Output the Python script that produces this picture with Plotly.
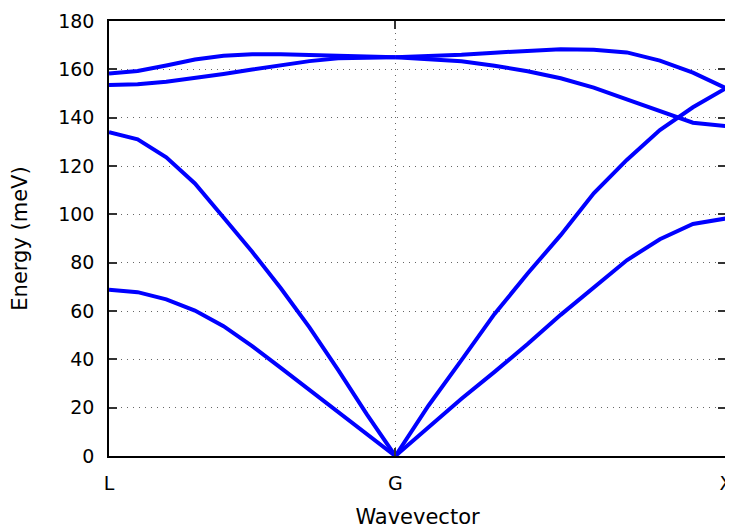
import plotly.graph_objects as go

# Path coordinate (units of 2*pi/a): L -> G has length sqrt(3)/2, G -> X has length 1
k_LG = [0.0, 0.0866, 0.1732, 0.2598, 0.3464, 0.4330, 0.5196, 0.6062, 0.6928, 0.7794, 0.8660]
k_GX = [0.8660, 0.9660, 1.0660, 1.1660, 1.2660, 1.3660, 1.4660, 1.5660, 1.6660, 1.7660, 1.8660]

tick_pos = [0.0, 0.866, 1.866]
tick_text = ["L", "G", "X"]

# Energies (meV), L -> G
LG_TA = [68.8, 67.8, 64.8, 60.2, 53.7, 45.5, 36.5, 27.5, 18.5, 9.4, 0.0]
LG_LA = [134.0, 131.0, 123.6, 112.8, 98.7, 84.5, 69.4, 53.2, 35.6, 17.3, 0.0]
LG_O1 = [153.5, 153.8, 154.9, 156.3, 158.1, 159.9, 161.6, 163.4, 164.6, 165.0, 165.0]
LG_O2 = [158.3, 159.3, 161.6, 164.1, 165.6, 166.2, 166.2, 165.9, 165.5, 165.2, 165.0]

# Energies (meV), G -> X
GX_TA = [0.0, 12.0, 23.7, 34.8, 46.3, 58.4, 69.9, 81.0, 89.7, 96.0, 98.3]
GX_LA = [0.0, 20.8, 39.7, 58.8, 75.5, 91.4, 108.7, 122.5, 134.9, 144.3, 152.2]
GX_O1 = [165.0, 164.2, 163.3, 161.5, 159.2, 156.3, 152.4, 147.6, 142.8, 137.9, 136.5]
GX_O2 = [165.0, 165.3, 166.0, 166.9, 167.7, 168.3, 168.1, 167.0, 163.6, 158.6, 152.2]

fig = go.Figure()
line = dict(color="#0000ff", width=4)
for ys in (LG_TA, LG_LA, LG_O1, LG_O2):
    fig.add_trace(go.Scatter(x=k_LG, y=ys, mode="lines", line=line, showlegend=False))
for ys in (GX_TA, GX_LA, GX_O1, GX_O2):
    fig.add_trace(go.Scatter(x=k_GX, y=ys, mode="lines", line=line, showlegend=False))

tick_font = dict(family="DejaVu Sans", size=19, color="#000000")
title_font = dict(family="DejaVu Sans", size=21, color="#000000")
grid = dict(showgrid=True, gridcolor="#666666", griddash="1px,5px", gridwidth=1.2)

# page body has an 8px margin, so the figure is sized to fit the 733x529 window
fig.update_layout(
    width=725, height=521,
    margin=dict(l=101, r=7, t=13, b=73),
    paper_bgcolor="white", plot_bgcolor="white",
    font=tick_font,
    xaxis=dict(
        range=[0, 1.866], tickmode="array", tickvals=tick_pos, ticktext=tick_text,
        tickfont=tick_font,
        showline=True, linecolor="black", linewidth=1.5, mirror="ticks",
        ticks="inside", ticklen=8, tickwidth=1.5, tickcolor="#333333",
        zeroline=False, ticklabelstandoff=9, automargin=False,
        title=dict(text="Wavevector", font=title_font, standoff=24),
        **grid,
    ),
    yaxis=dict(
        range=[0, 180], tickmode="array", tickvals=[0, 20, 40, 60, 80, 100, 120, 140, 160, 180],
        tickfont=tick_font,
        showline=True, linecolor="black", linewidth=1.5, mirror="ticks",
        ticks="inside", ticklen=8, tickwidth=1.5, tickcolor="#333333",
        zeroline=False, ticklabelstandoff=9, automargin=False,
        title=dict(text="Energy (meV)", font=title_font, standoff=26),
        **grid,
    ),
)

fig.write_html("out.html")
